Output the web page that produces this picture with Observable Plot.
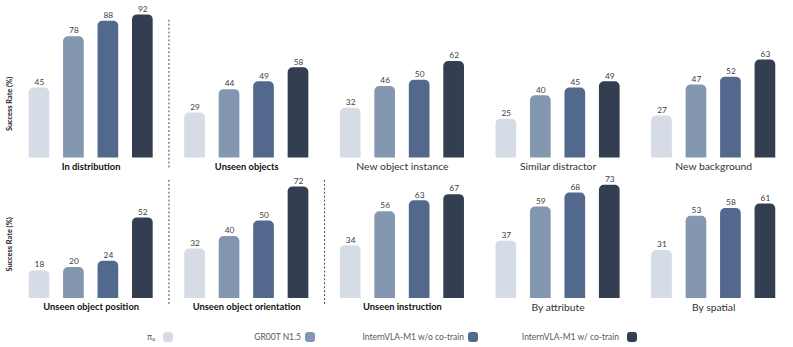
<!DOCTYPE html>
<html>
<head>
<meta charset="utf-8">
<script src="https://cdn.jsdelivr.net/npm/d3@7"></script>
<script src="https://cdn.jsdelivr.net/npm/@observablehq/plot@0.6"></script>
<style>
  html, body { margin: 0; padding: 0; background: #fff; overflow: hidden; }
  body { width: 793px; height: 347px; position: relative; font-family: Lato, "Open Sans", sans-serif; }
  .row { position: absolute; left: 0; }
  .legend { position: absolute; top: 331px; left: 0; width: 793px; height: 12px; font-size: 8.5px; color: #595959; }
  .lg-text { position: absolute; top: 0; line-height: 12px; white-space: nowrap; transform: translateX(-100%); }
  .lg-sw { position: absolute; top: 1px; width: 10px; height: 10px; border-radius: 3px; }
</style>
</head>
<body>
<div id="top" class="row" style="top:0px"></div>
<div id="bottom" class="row" style="top:172px"></div>
<div class="legend" id="legend"></div>
<script>
const methods = ["π₀", "GR00T N1.5", "InternVLA-M1 w/o co-train", "InternVLA-M1 w/ co-train"];
const methodColors = ["#d6dce5", "#8497b0", "#52698d", "#333f50"];

const topPanels = ["In distribution", "Unseen objects", "New object instance", "Similar distractor", "New background"];
const topBold = [true, true, false, false, false];
const topValues = [
  [45, 78, 88, 92],
  [29, 44, 49, 58],
  [32, 46, 50, 62],
  [25, 40, 45, 49],
  [27, 47, 52, 63]
];

const bottomPanels = ["Unseen object position", "Unseen object orientation", "Unseen instruction", "By attribute", "By spatial"];
const bottomBold = [true, true, true, false, false];
const bottomValues = [
  [18, 20, 24, 52],
  [32, 40, 50, 72],
  [34, 56, 63, 67],
  [37, 59, 68, 73],
  [31, 53, 58, 61]
];

const yLabel = "Success Rate (%)";

function makeRow(panels, bold, values, yMax, height, separatorsAfter, sepTop, sepBottom) {
  const rows = [];
  panels.forEach((p, i) => methods.forEach((m, j) => rows.push({panel: p, method: m, value: values[i][j]})));
  const boldPanels = panels.filter((p, i) => bold[i]);
  const normalPanels = panels.filter((p, i) => !bold[i]);
  const plot = Plot.plot({
    width: 805,
    height,
    marginLeft: 11,
    marginRight: 0,
    marginTop: 2,
    marginBottom: 15,
    style: {fontFamily: "Lato, 'Open Sans', sans-serif", background: "transparent", overflow: "visible"},
    fx: {domain: panels, padding: 0, axis: null},
    x: {domain: methods, padding: 0.41, axis: null},
    y: {domain: [0, yMax], axis: null},
    color: {domain: methods, range: methodColors},
    marks: [
      Plot.barY(rows, {fx: "panel", x: "method", y: "value", fill: "method", rx: 5, insetBottom: -8, clip: true}),
      Plot.text(rows, {fx: "panel", x: "method", y: "value", text: d => String(d.value), dy: -6, fontSize: 8.5, fill: "#404040"}),
      Plot.text(boldPanels, {fx: d => d, text: d => d, frameAnchor: "bottom", dy: 9, lineAnchor: "middle", fontWeight: "bold", fontSize: 9.5, fill: "#111"}),
      Plot.text(normalPanels, {fx: d => d, text: d => d, frameAnchor: "bottom", dy: 9, lineAnchor: "middle", fontSize: 10.5, fill: "#333"}),
      Plot.text([{panel: panels[0], label: yLabel}], {fx: "panel", text: "label", frameAnchor: "bottom-left", textAnchor: "middle", lineAnchor: "middle", rotate: -90, dy: -55, dx: -4, fontWeight: "bold", fontSize: 7.5, fill: "#222"})
    ]
  });
  const fx = plot.scale("fx");
  const svg = d3.select(plot.tagName.toLowerCase() === "svg" ? plot : plot.querySelector("svg"));
  separatorsAfter.forEach(i => {
    const x = Math.round(fx.apply(panels[i + 1])) + 0.5;
    svg.append("line")
      .attr("x1", x).attr("x2", x)
      .attr("y1", sepTop).attr("y2", height - sepBottom)
      .attr("stroke", "#444").attr("stroke-width", 1).attr("stroke-dasharray", "2,2");
  });
  return plot;
}

document.getElementById("top").appendChild(makeRow(topPanels, topBold, topValues, 100, 175, [0], 20, 5));
document.getElementById("bottom").appendChild(makeRow(bottomPanels, bottomBold, bottomValues, 80, 143, [0, 1], 8, 7));

// legend
const legendTextRight = [155, 301, 464, 619];
const legendSwatchLeft = [163, 305, 468, 627];
const legend = document.getElementById("legend");
methods.forEach((m, i) => {
  const t = document.createElement("div");
  t.className = "lg-text";
  t.style.left = legendTextRight[i] + "px";
  t.textContent = m;
  legend.appendChild(t);
  const s = document.createElement("div");
  s.className = "lg-sw";
  s.style.left = legendSwatchLeft[i] + "px";
  s.style.background = methodColors[i];
  legend.appendChild(s);
});
</script>
</body>
</html>
